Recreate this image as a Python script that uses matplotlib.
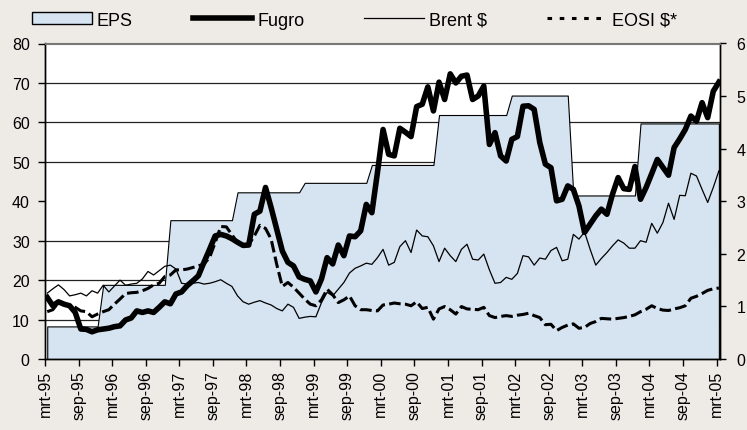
import numpy as np
import matplotlib

matplotlib.use("Agg")
import matplotlib.pyplot as plt
from matplotlib.lines import Line2D
from matplotlib.patches import Patch

plt.rcParams["font.family"] = ["Liberation Sans", "DejaVu Sans"]

# monthly data, mrt-95 .. mrt-05 (121 months)
tick_labels = [
    "mrt-95", "sep-95", "mrt-96", "sep-96", "mrt-97", "sep-97", "mrt-98",
    "sep-98", "mrt-99", "sep-99", "mrt-00", "sep-00", "mrt-01", "sep-01",
    "mrt-02", "sep-02", "mrt-03", "sep-03", "mrt-04", "sep-04", "mrt-05",
]

# EPS (right axis): one level per year, steps each January
eps_levels = [0.62, 1.41, 2.64, 3.17, 3.35, 3.69, 4.64, 5.01, 3.11, 4.48]
eps_months = [10, 12, 12, 12, 12, 12, 13, 11, 12, 15]  # months at each level

fugro = [
    15.6, 13.5, 14.5, 13.9, 13.5, 11.8, 7.6, 7.5, 6.9, 7.4,
    7.6, 7.8, 8.2, 8.4, 9.9, 10.4, 12.2, 11.8, 12.2, 11.8,
    13.1, 14.5, 14.0, 16.5, 17.0, 18.6, 19.8, 21.1, 24.5, 27.8,
    31.2, 31.6, 31.2, 30.5, 29.6, 28.8, 28.9, 36.7, 37.5, 43.5,
    38.4, 32.9, 27.4, 24.5, 23.6, 20.8, 20.2, 19.8, 17.0, 20.3,
    25.7, 24.1, 28.9, 26.2, 31.2, 31.0, 32.5, 39.2, 37.1, 47.3,
    58.2, 51.9, 51.5, 58.5, 57.5, 56.4, 64.0, 64.6, 69.0, 62.9,
    70.2, 65.8, 72.3, 70.0, 71.7, 72.0, 65.8, 66.7, 69.2, 54.4,
    57.4, 51.5, 50.2, 55.7, 56.4, 64.1, 64.2, 63.3, 54.9, 49.4,
    48.5, 40.1, 40.5, 43.9, 43.0, 38.8, 32.1, 34.2, 36.3, 38.0,
    36.7, 41.8, 46.0, 43.2, 43.0, 48.8, 40.5, 43.5, 47.0, 50.6,
    48.6, 46.6, 53.6, 55.8, 58.2, 61.6, 60.3, 65.0, 61.2, 67.9,
    70.2,
]

brent = [
    16.7, 17.8, 18.8, 17.6, 16.0, 16.3, 16.7, 16.0, 17.3, 16.7,
    18.7, 17.0, 18.5, 20.0, 18.7, 19.0, 19.2, 20.3, 22.2, 21.3,
    22.4, 23.5, 23.8, 22.8, 19.2, 19.0, 19.2, 19.4, 19.0, 19.2,
    19.6, 20.1, 19.2, 18.4, 16.0, 14.5, 13.9, 14.4, 14.8, 14.2,
    13.7, 12.8, 12.2, 13.9, 13.1, 10.3, 10.6, 10.8, 10.7, 14.3,
    16.9, 16.0, 17.7, 19.4, 21.8, 23.0, 23.6, 24.3, 24.0, 25.7,
    27.8, 23.8, 24.5, 28.5, 30.0, 27.0, 32.7, 31.2, 31.0, 28.7,
    24.7, 28.1, 26.2, 24.7, 27.8, 29.1, 25.3, 25.1, 26.6, 22.6,
    19.2, 19.4, 20.7, 20.2, 21.7, 26.2, 25.9, 23.8, 25.6, 25.3,
    27.5, 28.3, 24.9, 25.3, 31.6, 30.4, 32.2, 27.8, 23.8, 25.5,
    27.0, 28.7, 30.2, 29.4, 28.1, 28.1, 30.0, 29.6, 34.4, 31.9,
    34.6, 39.5, 35.4, 41.5, 41.4, 47.1, 46.4, 43.0, 39.7, 43.5,
    47.7,
]

eosi = [
    12.0, 12.5, 14.3, 14.0, 13.6, 13.1, 12.2, 12.0, 10.7, 11.4,
    12.0, 12.5, 13.9, 15.2, 16.6, 16.8, 16.9, 17.3, 17.9, 18.8,
    19.2, 20.9, 21.3, 22.6, 22.6, 22.8, 23.2, 23.6, 24.1, 25.7,
    29.5, 33.6, 33.5, 31.5, 29.5, 28.7, 29.0, 31.2, 33.9, 33.1,
    30.4, 24.0, 18.4, 19.4, 18.2, 16.7, 15.2, 13.9, 13.5, 15.0,
    17.7, 16.3, 14.3, 15.0, 16.0, 13.5, 12.5, 12.5, 12.3, 12.2,
    13.7, 13.9, 14.2, 14.0, 13.9, 13.5, 14.5, 12.8, 13.1, 10.1,
    12.7, 13.3, 12.5, 11.4, 13.3, 12.7, 12.6, 12.5, 13.1, 11.0,
    10.5, 10.8, 11.0, 10.8, 11.1, 11.3, 11.6, 11.0, 10.5, 8.7,
    8.8, 7.2, 8.0, 8.6, 8.9, 7.8, 8.0, 9.0, 9.5, 10.3,
    10.2, 10.1, 10.3, 10.5, 10.8, 11.2, 12.0, 12.6, 13.5, 12.8,
    12.4, 12.3, 12.7, 13.0, 13.5, 15.4, 15.9, 16.6, 17.4, 17.8,
    18.0,
]

eps = np.repeat(eps_levels, eps_months)
months = np.arange(len(fugro)) + 0.4

BG = "#EEEBE7"
FILL = "#D6E3F1"

fig = plt.figure(figsize=(7.47, 4.31), dpi=100, facecolor=BG)
ax = fig.add_axes([45 / 747, 1 - 360 / 431, 675 / 747, 315.5 / 431])
ax_eps = ax.twinx()

# EPS axis sits below the line axis so the lines stay on top
ax_eps.set_zorder(ax.get_zorder() - 1)
ax.patch.set_visible(False)
ax_eps.patch.set_visible(True)
ax_eps.patch.set_facecolor("white")

ax_eps.fill_between(months, 0, eps, facecolor=FILL, edgecolor="black", linewidth=0.8, zorder=2)
ax_eps.set_ylim(0, 6)
ax_eps.set_yticks(range(0, 7))

ax.plot(months, fugro, color="black", linewidth=4.0, solid_joinstyle="round")
ax.plot(months, brent, color="black", linewidth=0.9)
ax.plot(months, eosi, color="black", linewidth=2.2, linestyle=(0, (3.8, 1.4)))
ax.set_ylim(0, 80)
ax.set_yticks(range(0, 81, 10))
ax.set_xlim(0, 120.6)
ax.set_xticks(range(0, 121, 6))
ax.set_xticklabels(tick_labels, rotation=90)

# gridlines at the left-axis ticks, drawn on the lower axis so the fill hides them
grid_pos = np.arange(10, 80, 10) * 6 / 80
ax_eps.set_yticks(grid_pos, minor=True)
ax_eps.grid(True, which="minor", axis="y", color="#222222", linewidth=0.9, zorder=1)
ax_eps.set_axisbelow(True)
ax_eps.tick_params(which="minor", length=0)

for a in (ax, ax_eps):
    for side in ("left", "right", "bottom"):
        a.spines[side].set_color("black")
        a.spines[side].set_linewidth(1.0)
    a.spines["top"].set_color("#777777")

ax.tick_params(axis="y", labelsize=11.5, length=5, width=1, pad=6)
ax.tick_params(axis="x", labelsize=11.5, length=5, width=1, pad=3)
ax_eps.tick_params(axis="y", which="major", labelsize=11.5, length=4, width=1, pad=8)

handles = [
    Patch(facecolor=FILL, edgecolor="black", linewidth=1.0),
    Line2D([], [], color="black", linewidth=4.0),
    Line2D([], [], color="black", linewidth=0.9),
    Line2D([], [], color="black", linewidth=2.2, linestyle=(0, (1.5, 2.5))),
]
fig.legend(
    handles,
    ["EPS", "Fugro", "Brent $", "EOSI $*"],
    loc="center left",
    bbox_to_anchor=(32 / 747, 1 - 21 / 431),
    ncol=4,
    frameon=False,
    fontsize=13,
    handlelength=3.3,
    handleheight=0.6,
    handletextpad=0.3,
    columnspacing=3.3,
    borderpad=0,
    borderaxespad=0,
)

fig.savefig("out.png", dpi=100, facecolor=BG)
